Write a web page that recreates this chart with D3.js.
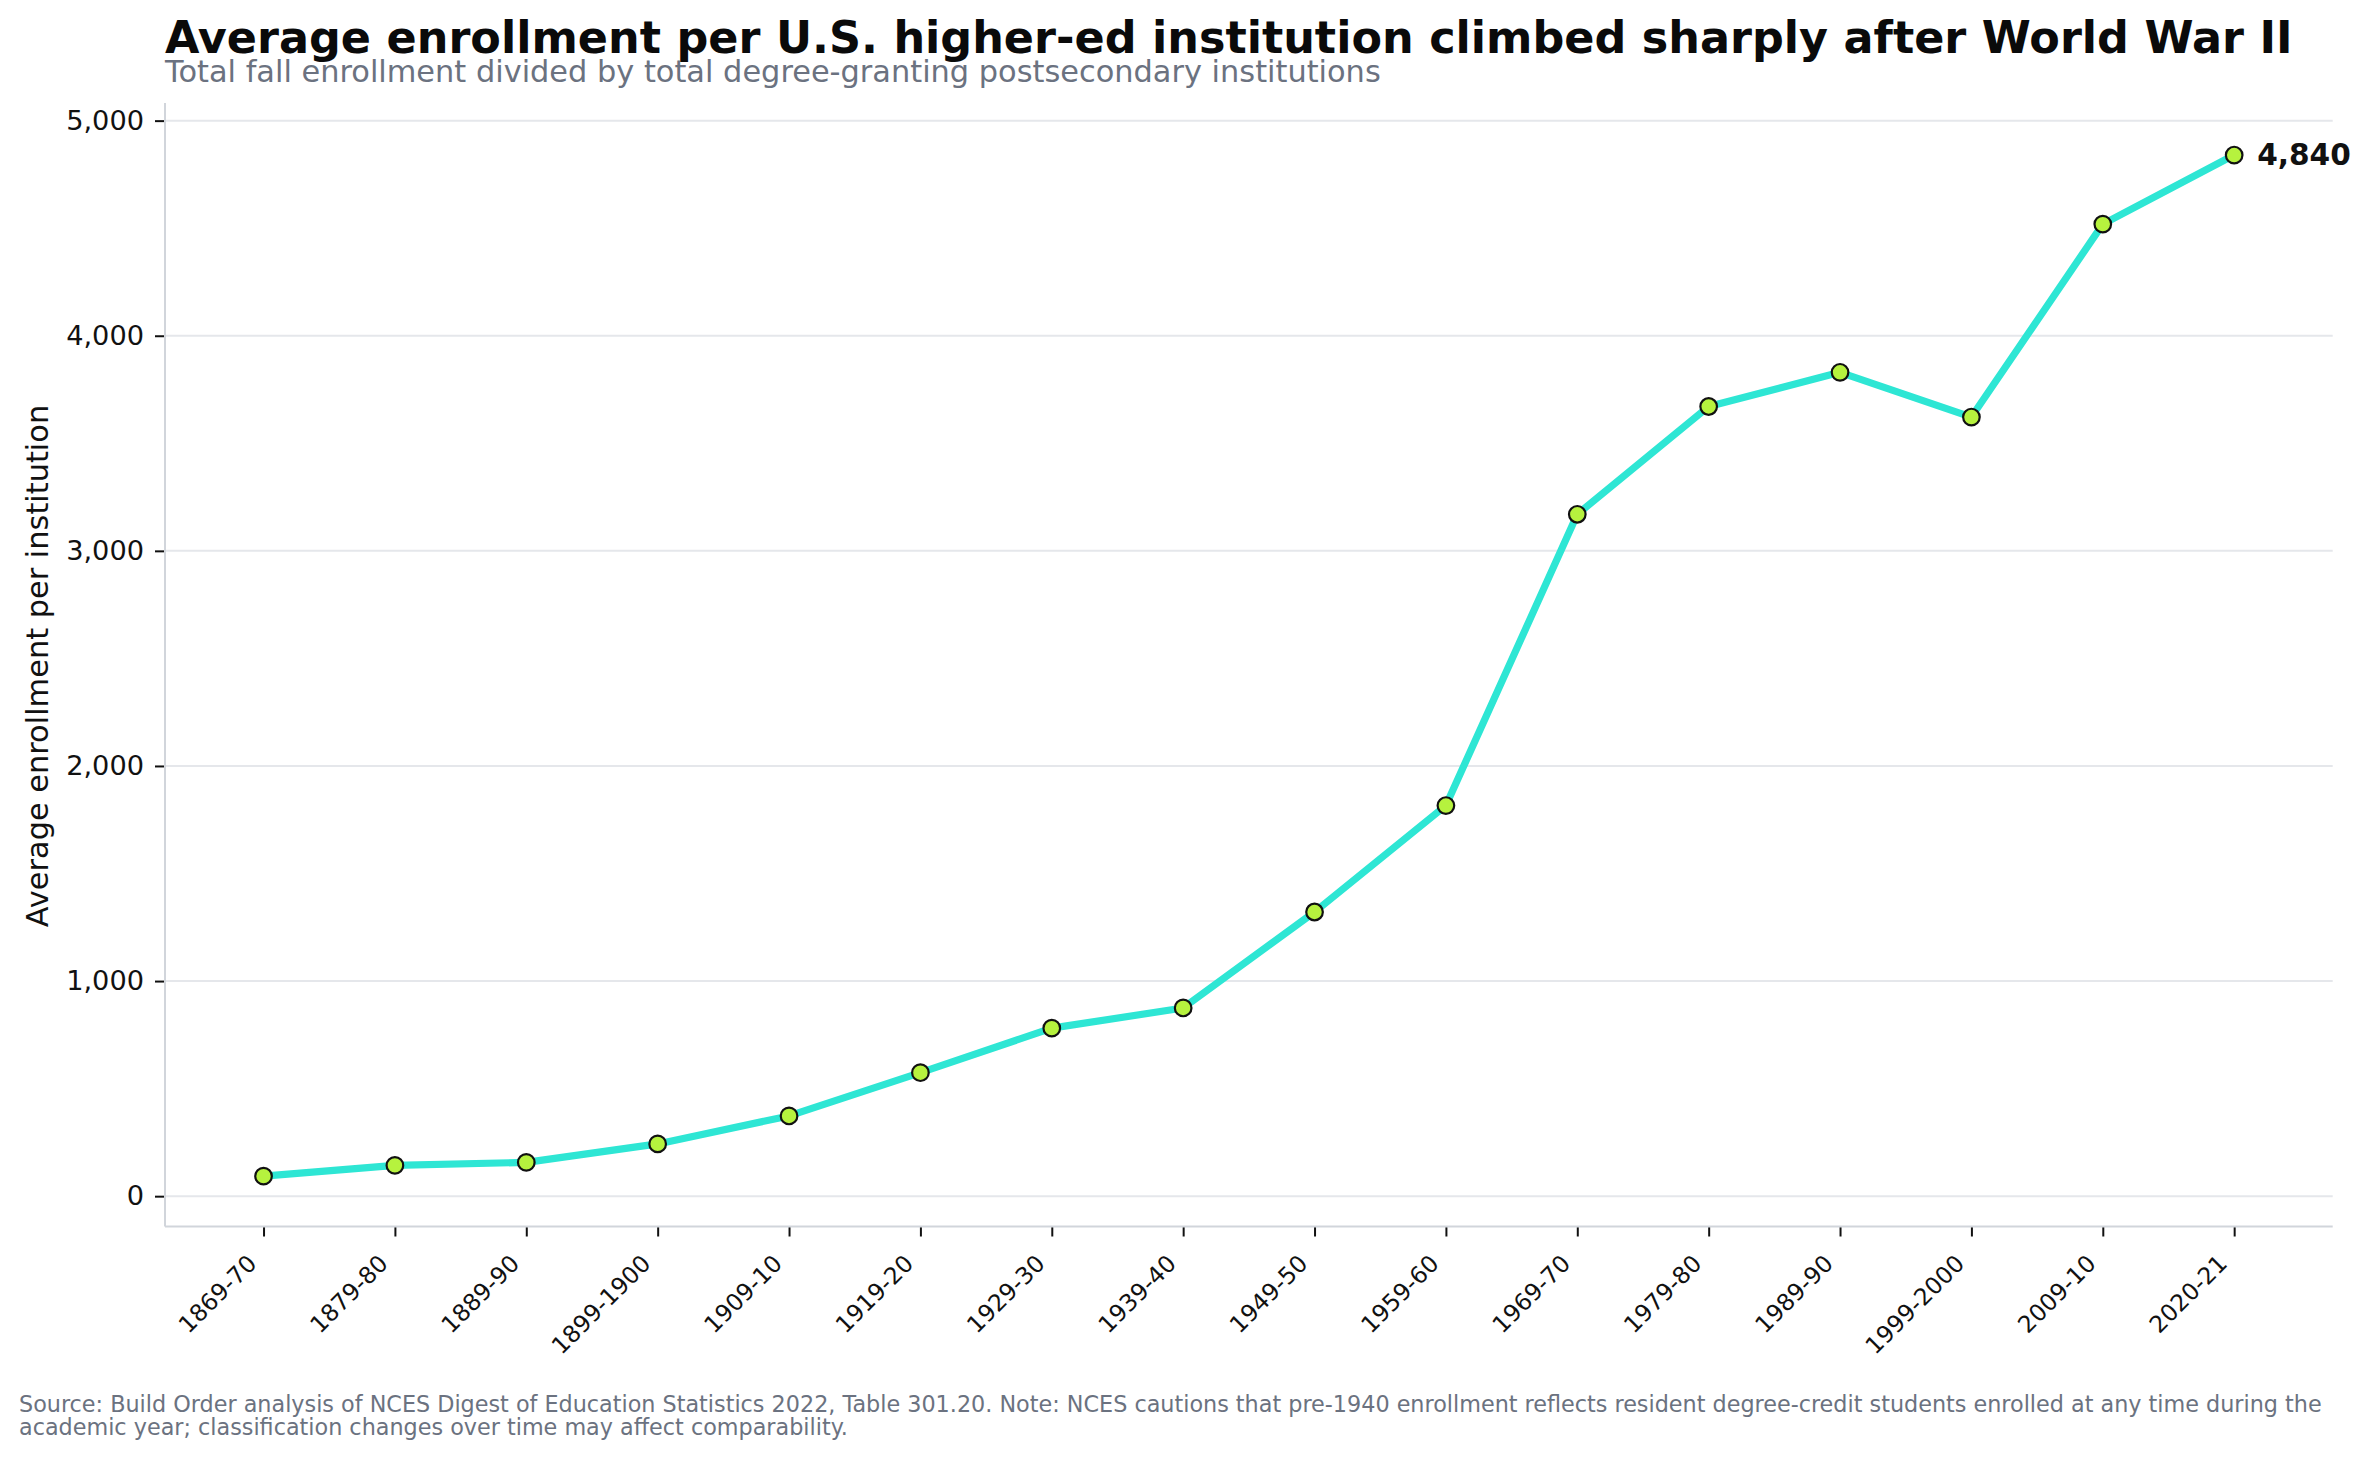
<!DOCTYPE html>
<html>
<head>
<meta charset="utf-8">
<script src="https://cdn.jsdelivr.net/npm/d3@7/dist/d3.min.js"></script>
<style>
  html, body { margin: 0; padding: 0; background: #ffffff; }
  svg { display: block; font-family: "DejaVu Sans", sans-serif; }
</style>
</head>
<body>
<svg id="chart" width="2372" height="1459"></svg>
<script>
// ---- data ----
const categories = ["1869-70","1879-80","1889-90","1899-1900","1909-10","1919-20","1929-30","1939-40",
                    "1949-50","1959-60","1969-70","1979-80","1989-90","1999-2000","2009-10","2020-21"];
const avgEnrollment = [93, 143, 157, 243, 373, 574, 781, 875, 1321, 1816, 3170, 3671, 3830, 3622, 4519, 4840];
const yTicks = [0, 1000, 2000, 3000, 4000, 5000];
const titleText = "Average enrollment per U.S. higher-ed institution climbed sharply after World War II";
const subtitleText = "Total fall enrollment divided by total degree-granting postsecondary institutions";
const yLabelText = "Average enrollment per institution";
const footerLines = [
  "Source: Build Order analysis of NCES Digest of Education Statistics 2022, Table 301.20. Note: NCES cautions that pre-1940 enrollment reflects resident degree-credit students enrolled at any time during the",
  "academic year; classification changes over time may affect comparability."
];

// ---- layout ----
const W = 2372, H = 1459;
const plot = { left: 165, right: 2332.7, top: 103, bottom: 1226.5 };
const svg = d3.select("#chart");

const x = d3.scalePoint().domain(categories).range([plot.left, plot.right]).padding(0.75);
const y = d3.scaleLinear().domain([-141, 5082]).range([plot.bottom, plot.top]);

// gridlines
svg.append("g").selectAll("line").data(yTicks).join("line")
  .attr("x1", plot.left).attr("x2", plot.right)
  .attr("y1", d => y(d)).attr("y2", d => y(d))
  .attr("stroke", "#e5e7eb").attr("stroke-width", 2);

// y axis
const yAxis = svg.append("g").attr("transform", `translate(${plot.left},0)`)
  .call(d3.axisLeft(y).tickValues(yTicks).tickFormat(d3.format(",")).tickSize(10).tickPadding(11));
yAxis.select(".domain").remove();
yAxis.selectAll(".tick line").attr("stroke", "#111").attr("stroke-width", 2);
yAxis.selectAll(".tick text").attr("fill", "#111").attr("font-size", 27.2)
  .attr("font-family", "DejaVu Sans");

// x axis
const xAxis = svg.append("g").attr("transform", `translate(0,${plot.bottom})`)
  .call(d3.axisBottom(x).tickSize(10).tickPadding(0));
xAxis.select(".domain").remove();
xAxis.selectAll(".tick line").attr("stroke", "#111").attr("stroke-width", 2);
xAxis.selectAll(".tick text")
  .attr("fill", "#111").attr("font-size", 23.5).attr("font-family", "DejaVu Sans")
  .attr("text-anchor", "end").attr("dy", null).attr("y", null)
  .attr("transform", "translate(-6,38.5) rotate(-45)");

// spines
svg.append("line").attr("x1", plot.left).attr("x2", plot.left)
  .attr("y1", plot.top).attr("y2", plot.bottom)
  .attr("stroke", "#d1d5db").attr("stroke-width", 2);
svg.append("line").attr("x1", plot.left).attr("x2", plot.right)
  .attr("y1", plot.bottom).attr("y2", plot.bottom)
  .attr("stroke", "#d1d5db").attr("stroke-width", 2);

// line
const pts = categories.map((c, i) => ({ c, v: avgEnrollment[i] }));
svg.append("path").datum(pts)
  .attr("d", d3.line().x(d => x(d.c)).y(d => y(d.v)))
  .attr("fill", "none").attr("stroke", "#2ee6d4").attr("stroke-width", 7.2)
  .attr("stroke-linejoin", "round").attr("stroke-linecap", "butt");

// markers
svg.append("g").selectAll("circle").data(pts).join("circle")
  .attr("cx", d => x(d.c)).attr("cy", d => y(d.v)).attr("r", 8.3)
  .attr("fill", "#b6f23e").attr("stroke", "#111").attr("stroke-width", 2.2);

// last-value annotation
const last = pts[pts.length - 1];
svg.append("text").attr("x", x(last.c) + 23).attr("y", y(last.v))
  .attr("dominant-baseline", "central").attr("font-size", 29.6).attr("font-weight", "bold")
  .attr("fill", "#111").text(d3.format(",")(last.v));

// y label
svg.append("text").attr("transform", "translate(48,666) rotate(-90)")
  .attr("text-anchor", "middle").attr("font-size", 30.4).attr("fill", "#111")
  .text(yLabelText);

// title & subtitle
svg.append("text").attr("x", 165).attr("y", 53).attr("font-size", 44.5).attr("font-weight", "bold")
  .attr("fill", "#0a0a0a").text(titleText);
svg.append("text").attr("x", 165).attr("y", 82).attr("font-size", 30.4).attr("fill", "#6b7280")
  .text(subtitleText);

// footer
svg.append("g").selectAll("text").data(footerLines).join("text")
  .attr("x", 19).attr("y", (d, i) => 1412 + i * 22.5)
  .attr("font-size", 22.3).attr("fill", "#6b7280").text(d => d);
</script>
</body>
</html>
